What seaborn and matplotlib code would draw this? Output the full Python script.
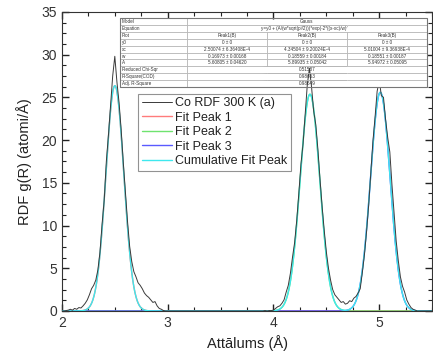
import numpy as np
import pandas as pd
import matplotlib
matplotlib.use("Agg")
import matplotlib.pyplot as plt
import seaborn as sns
from matplotlib.ticker import MultipleLocator

# RDF, 0.02 Å steps from 2.00 to 5.50
rdf = [
    0.0, 0.0, 0.05, 0.1, 0.2, 0.1, 0.3, 0.2, 0.4, 0.35,          # 2.00-2.18
    0.6, 0.9, 1.3, 1.9, 2.6, 3.0, 3.6, 4.8, 6.9, 10.2,           # 2.20-2.38
    13.0, 17.5, 20.6, 24.0, 27.5, 29.8, 26.8, 24.4, 21.2, 17.4,  # 2.40-2.58
    13.9, 10.5, 7.6, 5.8, 4.6, 4.0, 3.3, 3.0, 2.6, 2.1,          # 2.60-2.78
    1.8, 1.6, 1.3, 1.0, 1.1, 0.6, 0.3, 0.2, 0.05,                # 2.80-2.96
    0.0, 0.0, 0.0, 0.0, 0.0, 0.0, 0.0, 0.0, 0.0, 0.0,            # 2.98-3.16
    0.0, 0.0, 0.0, 0.0, 0.0, 0.0, 0.0, 0.0, 0.0, 0.0,            # 3.18-3.36
    0.0, 0.0, 0.0, 0.0, 0.0, 0.0, 0.0, 0.0, 0.0, 0.0,            # 3.38-3.56
    0.0, 0.0, 0.0, 0.0, 0.0, 0.0, 0.0, 0.0, 0.0, 0.0,            # 3.58-3.76
    0.0, 0.0, 0.0, 0.0, 0.0, 0.0, 0.0, 0.05, 0.0, 0.05, 0.05,    # 3.78-3.98
    0.1, 0.3, 0.5, 0.6, 0.9, 1.3, 2.2, 3.0, 4.4, 6.3,            # 4.00-4.18
    8.0, 10.6, 13.8, 17.2, 19.6, 23.0, 26.5, 28.4, 26.2, 23.4,   # 4.20-4.38
    21.8, 18.9, 15.4, 12.2, 9.4, 6.9, 5.0, 3.6, 2.5, 1.9,        # 4.40-4.58
    1.6, 1.3, 1.0, 1.1, 0.8, 0.9, 1.2, 1.1, 1.5, 1.7,            # 4.60-4.78
    2.1, 2.6, 4.5, 6.6, 9.3, 12.4, 16.1, 19.8, 22.6, 25.7,       # 4.80-4.98
    27.0, 25.2, 25.0, 22.4, 20.3, 18.6, 14.8, 11.5, 8.2, 5.9,    # 5.00-5.18
    4.0, 2.9, 2.2, 1.3, 0.8, 0.4, 0.2, 0.1,                      # 5.20-5.34
    0.0, 0.0, 0.0, 0.0, 0.0, 0.0, 0.0, 0.0,                      # 5.36-5.50
]
distance = np.linspace(2.0, 5.5, len(rdf))

# Gauss fit parameters (from the fit table)
peak_names = ["Peak1(B)", "Peak2(B)", "Peak3(B)"]
xc = [2.50074, 4.34504, 5.01004]
xc_err = ["6.36408E-4", "9.20024E-4", "9.36938E-4"]
w = [0.16973, 0.18559, 0.18551]
w_err = ["0.00168", "0.00184", "0.00187"]
area = [5.60805, 5.89935, 5.94972]
area_err = ["0.04620", "0.05042", "0.05095"]
chi_sqr = "0.51587"
r_square = "0.98653"
adj_r_square = "0.98649"


def gauss(x, xc, w, a):
    return a / (w * np.sqrt(np.pi / 2)) * np.exp(-2 * ((x - xc) / w) ** 2)


x_fit = np.linspace(2.0, 5.5, 701)
peaks = [gauss(x_fit, xc[i], w[i], area[i]) for i in range(3)]
cumulative = peaks[0] + peaks[1] + peaks[2]

sns.set_theme(style="ticks")
plt.rcParams['font.family'] = ['Liberation Sans', 'DejaVu Sans']

fig = plt.figure(figsize=(4.33, 3.54), dpi=100)
ax = fig.add_axes([0.143, 0.1215, 0.855, 0.845])

df = pd.DataFrame({'r': distance, 'g': rdf})
sns.lineplot(data=df, x='r', y='g', ax=ax, color='#3a3a3a', lw=0.7,
             label='Co RDF 300 K (a)', zorder=4)
peak_colors = ['#ff7b7b', '#6fe36f', '#5a5aff']
for i in range(3):
    sns.lineplot(x=x_fit, y=peaks[i], ax=ax, color=peak_colors[i], lw=1.0,
                 label=f'Fit Peak {i + 1}', zorder=2)
sns.lineplot(x=x_fit, y=cumulative, ax=ax, color='#3ee8ee', lw=1.0,
             label='Cumulative Fit Peak', zorder=3)

ax.set_xlim(2, 5.5)
ax.set_ylim(0, 35)
ax.xaxis.set_major_locator(MultipleLocator(1))
ax.xaxis.set_minor_locator(MultipleLocator(0.25))
ax.yaxis.set_major_locator(MultipleLocator(5))
ax.yaxis.set_minor_locator(MultipleLocator(1.25))
ax.tick_params(which='both', direction='in', top=True, right=True,
               color='#222222', labelsize=10, labelcolor='#333333')
ax.tick_params(which='major', length=5, width=1.0)
ax.tick_params(which='minor', length=3, width=0.8)
for s in ax.spines.values():
    s.set_color('#333333')
    s.set_linewidth(0.8)
ax.set_xlabel('Attālums (Å)', fontsize=10.5, color='#222222', labelpad=4)
ax.set_ylabel('RDF g(R) (atomi/Å)', fontsize=10.5, color='#222222', labelpad=7)

leg = ax.legend(loc='upper left', bbox_to_anchor=(0.205, 0.727), fontsize=9,
                frameon=True, fancybox=False, edgecolor='#777777',
                handlelength=2.4, handletextpad=0.3, labelspacing=0.2,
                borderpad=0.3, borderaxespad=0)
leg.get_frame().set_linewidth(0.8)
leg.set_zorder(8)
for t in leg.get_texts():
    t.set_color('#222222')

# fit results table
pm = ' ± '
rows = [
    ['Model', '', 'Gauss', ''],
    ['Equation', '', 'y=y0 + (A/(w*sqrt(pi/2)))*exp(-2*((x-xc)/w)^2)', ''],
    ['Plot'] + peak_names,
    ['y0'] + ['0' + pm + '0'] * 3,
    ['xc'] + [f'{xc[i]:.5f}{pm}{xc_err[i]}' for i in range(3)],
    ['w'] + [f'{w[i]:.5f}{pm}{w_err[i]}' for i in range(3)],
    ['A'] + [f'{area[i]:.5f}{pm}{area_err[i]}' for i in range(3)],
    ['Reduced Chi-Sqr', '', chi_sqr, ''],
    ['R-Square(COD)', '', r_square, ''],
    ['Adj. R-Square', '', adj_r_square, ''],
]
merged = {0, 1, 7, 8, 9}
tab = ax.table(cellText=rows, colWidths=[0.218, 0.261, 0.261, 0.261],
               bbox=[0.157, 0.748, 0.829, 0.232], cellLoc='center')
tab.auto_set_font_size(False)
tab.set_fontsize(3.3)
tab.set_zorder(10)
for (r, c), cell in tab.get_celld().items():
    cell.set_edgecolor('#b0b0b0')
    cell.set_linewidth(0.5)
    cell.set_facecolor('white')
    cell.get_text().set_color('#333333')
    if c == 0:
        cell.get_text().set_ha('left')
        cell.PAD = 0.03
    if r in merged:
        if c == 1:
            cell.visible_edges = 'LTB'
        elif c == 2:
            cell.visible_edges = 'TB'
        elif c == 3:
            cell.visible_edges = 'TBR'
# outer frame of the table
tab_frame = plt.Rectangle((0.157, 0.748), 0.829, 0.232, transform=ax.transAxes,
                          fill=False, edgecolor='#777777', lw=0.8, zorder=11)
ax.add_patch(tab_frame)

fig.savefig('out.png', dpi=100)
